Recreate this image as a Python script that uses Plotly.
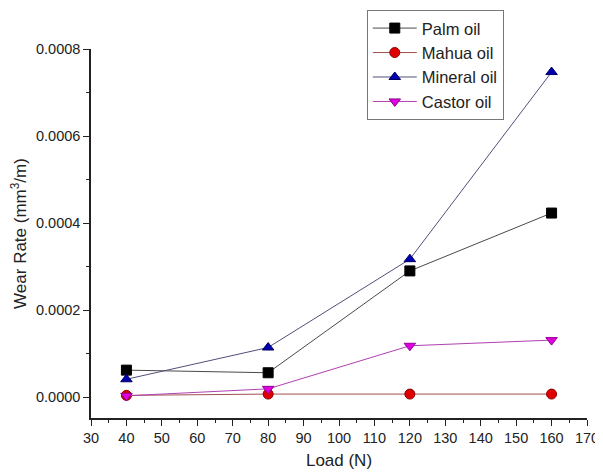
import plotly.graph_objects as go

loads = [40, 80, 120, 160]
palm_oil = [0.000062, 0.000056, 0.000290, 0.000423]
mahua_oil = [0.000004, 0.000007, 0.000007, 0.000007]
mineral_oil = [0.000041, 0.000114, 0.000317, 0.000747]
castor_oil = [0.000003, 0.000019, 0.000118, 0.000131]

series = [
    ("Palm oil", palm_oil, "square", "#000000", "#000000", "#4a4a4a"),
    ("Mahua oil", mahua_oil, "circle", "#e00000", "#8b0000", "#a05050"),
    ("Mineral oil", mineral_oil, "triangle-up", "#0000b0", "#000060", "#50507a"),
    ("Castor oil", castor_oil, "triangle-down", "#e000e0", "#900090", "#b040b0"),
]

fig = go.Figure()
for name, vals, sym, fill, edge, lc in series:
    fig.add_trace(go.Scatter(
        x=loads, y=vals, name=name, mode="lines+markers",
        line=dict(color=lc, width=1),
        marker=dict(symbol=sym, size=10, color=fill, line=dict(color=edge, width=1)),
    ))

# page body has an 8px default margin, so the figure is sized to fit the window
fig.update_layout(
    width=595, height=467,
    margin=dict(l=83, r=16, t=41, b=57, autoexpand=False),
    paper_bgcolor="white", plot_bgcolor="white",
    font=dict(family="Liberation Sans, Arial, sans-serif", size=15, color="#222"),
    legend=dict(
        xref="container", yref="container",
        x=0.603, y=0.996, xanchor="left", yanchor="top",
        bordercolor="#777", borderwidth=1, bgcolor="white",
        font=dict(size=16.5), tracegroupgap=0, itemwidth=44,
    ),
    xaxis=dict(
        range=[30, 170], dtick=10, tick0=30, automargin=False,
        showline=True, linecolor="#222", linewidth=1.5,
        ticks="outside", ticklen=6, tickcolor="#222", tickwidth=1,
        minor=dict(ticks="outside", ticklen=3, dtick=5, tickcolor="#222"),
        showgrid=False, zeroline=False,
        tickfont=dict(size=14.5),
        title=dict(text="Load (N)", font=dict(size=17), standoff=9),
    ),
    yaxis=dict(
        range=[-0.000048, 0.0008], dtick=0.0002, tick0=0, automargin=False,
        tickformat=".4f",
        showline=True, linecolor="#222", linewidth=1.5,
        ticks="outside", ticklen=6, tickcolor="#222", tickwidth=1,
        minor=dict(ticks="outside", ticklen=3, dtick=0.0001, tickcolor="#222"),
        showgrid=False, zeroline=False,
        tickfont=dict(size=14.5),
        title=dict(text="Wear Rate (mm<sup>3</sup>/m)", font=dict(size=17), standoff=10),
    ),
)

fig.write_html("out.html")
